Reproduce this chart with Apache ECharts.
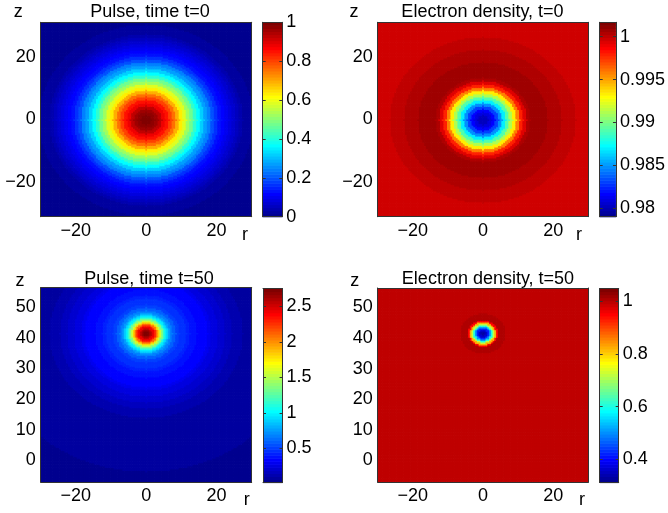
<!DOCTYPE html>
<html><head><meta charset="utf-8">
<script src="https://cdn.jsdelivr.net/npm/echarts@6/dist/echarts.min.js"></script>
<style>html,body{margin:0;padding:0;background:#fff}#c{width:668px;height:513px}</style>
</head><body><div id="c"></div>
<script>
// ---------------- data ----------------
const titles = ['Pulse, time t=0', 'Electron density, t=0', 'Pulse, time t=50', 'Electron density, t=50'];
const rAxisName = 'r';
const zAxisName = 'z';
const rRange = [-30, 30];
const zRangeT0 = [-31.1, 31.1];
const zRangeT50 = [-7.1, 56.3];
const rTicks = [-20, 0, 20];
const zTicksT0 = [-20, 0, 20];
const zTicksT50 = [0, 10, 20, 30, 40, 50];
const cbRange1 = [0, 1];
const cbRange2 = [0.97902, 1.00168];
const cbRange3 = [0.021, 2.754];
const cbRange4 = [0.311, 1.0495];
const cbTicks1 = [0, 0.2, 0.4, 0.6, 0.8, 1];
const cbTicks2 = [0.98, 0.985, 0.99, 0.995, 1];
const cbTicks3 = [0.5, 1, 1.5, 2, 2.5];
const cbTicks4 = [0.4, 0.6, 0.8, 1];
// centre of each structure (r, z)
const pulse0Center = [0, 0];
const density0Center = [0, 0];
const pulse50Center = [0, 41.5];
const density50Center = [0, 41.6];
// radial profiles: distance from centre -> value
const pulse0Radius = [0,1,2,3,4,5,6,7,8,9,10,11,12,13,14,15,16,17,18,19,20,21,22,23,24,25,26,27,28,29,30,31,32,33,34,35,36,37,38,39,40,41,42,43,44];
const pulse0Value = [1.00,0.996,0.98,0.96,0.93,0.89,0.85,0.80,0.75,0.70,0.64,0.58,0.53,0.47,0.42,0.37,0.32,0.28,0.24,0.20,0.17,0.14,0.12,0.095,0.08,0.065,0.05,0.04,0.03,0.025,0.02,0.015,0.012,0.010,0.008,0.006,0.005,0.004,0.003,0.002,0.002,0.001,0.001,0.001,0.000];
const density0Radius = [0,1,2,3,4,5,6,7,8,9,10,11,12,13,14,15,16,17,18,19,20,21,22,23,24,25,26,27,28,29,30,31,32,33,34,35,36,37,38,39,40,41,42,43,44];
const density0Value = [0.9802,0.9804,0.9809,0.9818,0.9832,0.9850,0.9869,0.9890,0.9912,0.9935,0.9957,0.9978,0.9994,1.0003,1.0007,1.0008,1.0008,1.0008,1.0007,1.0006,1.0005,1.0004,1.0003,1.0002,1.0001,1.0000,0.99993,0.9998,0.9998,0.9998,0.9998,0.9998,0.9998,0.9998,0.9998,0.9998,0.9998,0.9998,0.9998,0.9998,0.9998,0.9998,0.9998,0.9998,0.9998];
const pulse50Radius = [0,0.5,1,1.5,2,2.5,3,3.5,4,4.5,5,5.5,6,6.5,7,8,9,10,11,12,13,14,15,16,17,18,19,20,21,22,23,24,25,26,27,28,30,35,40,50,60];
const pulse50Value = [2.75,2.72,2.64,2.55,2.45,2.30,2.10,1.85,1.60,1.35,1.15,1.00,0.88,0.78,0.70,0.58,0.52,0.48,0.45,0.42,0.40,0.38,0.36,0.34,0.32,0.29,0.26,0.24,0.22,0.20,0.18,0.16,0.14,0.12,0.11,0.10,0.09,0.08,0.07,0.06,0.06];
const density50Radius = [0,0.5,1,1.5,2,2.5,3,3.5,4,4.5,5,6,7,8,9,10,60];
const density50Value = [0.33,0.34,0.36,0.42,0.50,0.60,0.72,0.82,0.95,1.01,1.008,1.005,1.002,1.001,1.0,1.0,1.0];

// ---------------- helpers ----------------
const FONT = '"Liberation Sans", Arial, Helvetica, sans-serif';
function jetU(k) { return (k < 1 || k > 47) ? 0 : (k <= 16 ? k / 16 : (k <= 31 ? 1 : (48 - k) / 16)); }
function jetColorIdx(i) {
  const r = Math.round(255 * jetU(i - 24)), g = Math.round(255 * jetU(i - 8)), b = Math.round(255 * jetU(i + 8));
  return 'rgb(' + r + ',' + g + ',' + b + ')';
}
function jetColor(v, range) {
  let i = Math.floor((v - range[0]) / (range[1] - range[0]) * 64) + 1;
  if (i < 1) i = 1; if (i > 64) i = 64;
  return jetColorIdx(i);
}
function nearest(radii, values, d) {
  let best = 0, bd = Infinity;
  for (let k = 0; k < radii.length; k++) { const e = Math.abs(radii[k] - d); if (e < bd) { bd = e; best = k; } }
  return values[best];
}
function buildCells(radii, values, center, rr, zr, step) {
  const out = [];
  const r0 = Math.ceil(rr[0] / step) * step, z0 = Math.floor(zr[0] / step) * step;
  for (let r = r0; r <= rr[1] + 1e-9; r += step) {
    for (let z = z0; z <= zr[1] + step; z += step) {
      const d = Math.hypot(r - center[0], z - center[1]);
      out.push([r, z, nearest(radii, values, d)]);
    }
  }
  return out;
}
const minus = v => String(v).replace('-', '\u2212');

const panels = [
  {title: titles[0], cells: buildCells(pulse0Radius, pulse0Value, pulse0Center, rRange, zRangeT0, 0.5), step: 0.5,
   zRange: zRangeT0, zTicks: zTicksT0, cb: cbRange1, cbTicks: cbTicks1,
   grid: {left: 40.7, top: 22.3, width: 211, height: 194.4}, cbGrid: {left: 262.7, top: 22.3, width: 19.6, height: 194.4},
   titlePos: [150, 12.5], zPos: [18.3, 11.7], rPos: [245, 235.5]},
  {title: titles[1], cells: buildCells(density0Radius, density0Value, density0Center, rRange, zRangeT0, 0.5), step: 0.5,
   zRange: zRangeT0, zTicks: zTicksT0, cb: cbRange2, cbTicks: cbTicks2,
   grid: {left: 377.7, top: 22.3, width: 210.6, height: 194.4}, cbGrid: {left: 599.7, top: 22.3, width: 19, height: 194.4},
   titlePos: [482.5, 12.5], zPos: [354, 11.7], rPos: [579, 235.5]},
  {title: titles[2], cells: buildCells(pulse50Radius, pulse50Value, pulse50Center, rRange, zRangeT50, 0.5), step: 0.5,
   zRange: zRangeT50, zTicks: zTicksT50, cb: cbRange3, cbTicks: cbTicks3,
   grid: {left: 40.7, top: 287.7, width: 211, height: 194.4}, cbGrid: {left: 263, top: 288.5, width: 19.6, height: 194},
   titlePos: [149, 279.3], zPos: [20, 281], rPos: [246.7, 500]},
  {title: titles[3], cells: buildCells(density50Radius, density50Value, density50Center, rRange, zRangeT50, 0.5), step: 0.5,
   zRange: zRangeT50, zTicks: zTicksT50, cb: cbRange4, cbTicks: cbTicks4,
   grid: {left: 377.7, top: 288, width: 210.6, height: 194.2}, cbGrid: {left: 599.7, top: 288.5, width: 19, height: 194},
   titlePos: [488, 279.3], zPos: [354.7, 281], rPos: [582, 500]}
];

// ---------------- option ----------------
const grids = [], xAxes = [], yAxes = [], series = [], graphics = [];
const lineStyle = {color: '#333', width: 1};
const labelStyle = {color: '#000', fontSize: 18, fontFamily: FONT};

panels.forEach((p, k) => {
  const gi = grids.length;
  grids.push(p.grid);
  const xb = xAxes.length;
  xAxes.push({gridIndex: gi, type: 'value', min: rRange[0], max: rRange[1], position: 'bottom', z: 5,
    axisLine: {show: true, onZero: false, lineStyle}, axisTick: {show: false}, splitLine: {show: false},
    axisLabel: Object.assign({customValues: rTicks, formatter: minus, margin: 5}, labelStyle)});
  xAxes.push({gridIndex: gi, type: 'value', min: rRange[0], max: rRange[1], position: 'top', z: 5,
    axisLine: {show: true, onZero: false, lineStyle}, axisTick: {show: false}, axisLabel: {show: false}, splitLine: {show: false}});
  const yb = yAxes.length;
  yAxes.push({gridIndex: gi, type: 'value', min: p.zRange[0], max: p.zRange[1], position: 'left', z: 5,
    axisLine: {show: true, onZero: false, lineStyle}, axisTick: {show: false}, splitLine: {show: false},
    axisLabel: Object.assign({customValues: p.zTicks, formatter: minus, margin: 5}, labelStyle)});
  yAxes.push({gridIndex: gi, type: 'value', min: p.zRange[0], max: p.zRange[1], position: 'right', z: 5,
    axisLine: {show: true, onZero: false, lineStyle}, axisTick: {show: false}, axisLabel: {show: false}, splitLine: {show: false}});
  const rng = p.cb, half = p.step / 2;
  series.push({type: 'custom', xAxisIndex: xb, yAxisIndex: yb, data: p.cells, animation: false, silent: true, progressive: 0,
    renderItem: function (params, api) {
      const r = api.value(0), z = api.value(1), v = api.value(2);
      const a = api.coord([r - half, z + half]), b = api.coord([r + half, z - half]);
      const rect = echarts.graphic.clipRectByRect({x: a[0], y: a[1], width: b[0] - a[0] + 0.7, height: b[1] - a[1] + 0.7}, params.coordSys);
      if (!rect) return null;
      return {type: 'rect', shape: rect, style: {fill: jetColor(v, rng)}};
    }});

  // colour bar
  const ci = grids.length;
  grids.push(p.cbGrid);
  const cx = xAxes.length;
  xAxes.push({gridIndex: ci, type: 'value', min: 0, max: 1, position: 'bottom', z: 5,
    axisLine: {show: true, onZero: false, lineStyle}, axisTick: {show: false}, axisLabel: {show: false}, splitLine: {show: false}});
  xAxes.push({gridIndex: ci, type: 'value', min: 0, max: 1, position: 'top', z: 5,
    axisLine: {show: true, onZero: false, lineStyle}, axisTick: {show: false}, axisLabel: {show: false}, splitLine: {show: false}});
  const cy = yAxes.length;
  yAxes.push({gridIndex: ci, type: 'value', min: rng[0], max: rng[1], position: 'right', z: 5,
    axisLine: {show: true, onZero: false, lineStyle},
    axisTick: {show: true, inside: true, length: 3, customValues: p.cbTicks, lineStyle},
    splitLine: {show: false},
    axisLabel: Object.assign({customValues: p.cbTicks, margin: 4}, labelStyle)});
  yAxes.push({gridIndex: ci, type: 'value', min: rng[0], max: rng[1], position: 'left', z: 5,
    axisLine: {show: true, onZero: false, lineStyle},
    axisTick: {show: true, inside: true, length: 3, customValues: p.cbTicks, lineStyle},
    axisLabel: {show: false}, splitLine: {show: false}});
  const levels = [];
  for (let i = 1; i <= 64; i++) levels.push([0.5, i]);
  const span = (rng[1] - rng[0]) / 64;
  series.push({type: 'custom', xAxisIndex: cx, yAxisIndex: cy, data: levels, animation: false, silent: true, progressive: 0,
    renderItem: function (params, api) {
      const i = api.value(1);
      const lo = rng[0] + (i - 1) * span, hi = lo + span;
      const a = api.coord([0, hi]), b = api.coord([1, lo]);
      return {type: 'rect', shape: {x: a[0], y: a[1], width: b[0] - a[0], height: b[1] - a[1] + 0.6}, style: {fill: jetColorIdx(i)}};
    }});

  graphics.push({type: 'text', x: p.titlePos[0], y: p.titlePos[1], style: {text: p.title, align: 'center', verticalAlign: 'middle', fill: '#000', font: '18px ' + FONT}});
  graphics.push({type: 'text', x: p.zPos[0], y: p.zPos[1], style: {text: zAxisName, align: 'center', verticalAlign: 'middle', fill: '#000', font: '18px ' + FONT}});
  graphics.push({type: 'text', x: p.rPos[0], y: p.rPos[1], style: {text: rAxisName, align: 'center', verticalAlign: 'middle', fill: '#000', font: '18px ' + FONT}});
});

const chart = echarts.init(document.getElementById('c'), null, {renderer: 'canvas', width: 668, height: 513});
chart.setOption({
  animation: false,
  backgroundColor: '#fff',
  grid: grids, xAxis: xAxes, yAxis: yAxes, series: series, graphic: graphics
});
</script>
</body></html>
